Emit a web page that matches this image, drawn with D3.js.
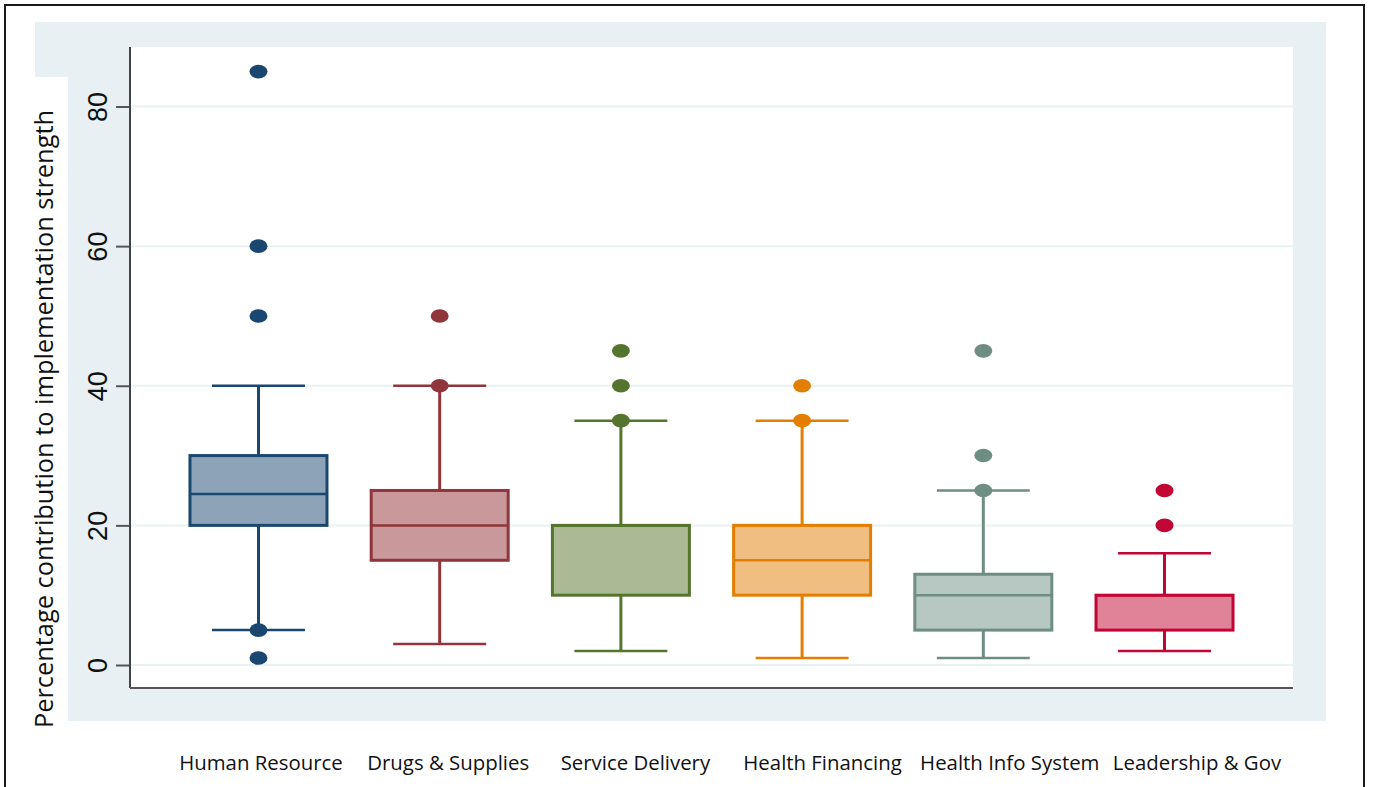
<!DOCTYPE html>
<html>
<head>
<meta charset="utf-8">
<script src="https://cdn.jsdelivr.net/npm/d3@7"></script>
<style>
  html, body { margin: 0; padding: 0; background: #fff; }
  svg { display: block; }
</style>
</head>
<body>
<svg id="chart" width="1373" height="787"></svg>
<script>
// ---- data ----
const categories = ["Human Resource", "Drugs & Supplies", "Service Delivery", "Health Financing", "Health Info System", "Leadership & Gov"];
const q1 = [20, 15, 10, 10, 5, 5];
const medians = [24.5, 20, 20, 15, 10, 10];
const q3 = [30, 25, 20, 20, 13, 10];
const whiskerLow = [5, 3, 2, 1, 1, 2];
const whiskerHigh = [40, 40, 35, 35, 25, 16];
const outliers = [[85, 60, 50, 5, 1], [50, 40], [45, 40, 35], [40, 35], [45, 30, 25], [25, 20]];
const yTicks = [0, 20, 40, 60, 80];
const yLabel = "Percentage contribution to implementation strength";

const strokeColors = ["#1a476f", "#90353b", "#55752f", "#e37e00", "#6e8e84", "#c10534"];
const fillColors = ["#8da3b8", "#c8989b", "#abba95", "#f0be80", "#b7c7c1", "#e08298"];

// ---- layout ----
const svg = d3.select("#chart");
const plot = { left: 130, right: 1293, top: 47, bottom: 688 };

// outer frame
svg.append("rect").attr("x", 5).attr("y", 5).attr("width", 1359).attr("height", 800)
  .attr("fill", "#fff").attr("stroke", "#1a1a1a").attr("stroke-width", 2);

// panel background with notch
svg.append("path")
  .attr("d", "M35,22 H1326 V721 H68 V77 H35 Z")
  .attr("fill", "#e9f0f3");

// plot region
svg.append("rect").attr("x", plot.left).attr("y", plot.top)
  .attr("width", plot.right - plot.left).attr("height", plot.bottom - plot.top)
  .attr("fill", "#fff");

const x = d3.scalePoint().domain(categories).range([plot.left, plot.right]).padding(0.709);
const y = d3.scaleLinear().domain([0, 80]).range([665, 106.5]);

// gridlines
svg.append("g").selectAll("line").data(yTicks).join("line")
  .attr("x1", plot.left).attr("x2", plot.right)
  .attr("y1", d => y(d)).attr("y2", d => y(d))
  .attr("stroke", "#eaf1f3").attr("stroke-width", 2);

// y axis
const yAxis = d3.axisLeft(y).tickValues(yTicks).tickSize(14).tickPadding(0).tickFormat(d3.format("d"));
const gy = svg.append("g").attr("transform", `translate(${plot.left},0)`).call(yAxis);
gy.select(".domain").remove();
gy.selectAll(".tick line").attr("stroke", "#555").attr("stroke-width", 2);
gy.selectAll(".tick text")
  .attr("x", 0).attr("y", 0)
  .attr("transform", "translate(-23,0) rotate(-90)")
  .attr("text-anchor", "middle")
  .attr("dy", 0)
  .style("font-family", "'Liberation Sans', Arial, sans-serif")
  .style("font-size", "27px")
  .attr("fill", "#111");

// axis lines
svg.append("line").attr("x1", plot.left).attr("x2", plot.left).attr("y1", plot.top).attr("y2", plot.bottom)
  .attr("stroke", "#444").attr("stroke-width", 2);
svg.append("line").attr("x1", plot.left).attr("x2", plot.right).attr("y1", plot.bottom).attr("y2", plot.bottom)
  .attr("stroke", "#555").attr("stroke-width", 2);

// boxes
const boxW = x.step() * 0.756;
const capW = x.step() * 0.513;
const groups = svg.append("g").selectAll("g").data(categories).join("g");

groups.each(function (c, i) {
  const g = d3.select(this);
  const cx = x(c);
  const col = strokeColors[i];
  // whiskers
  g.append("line").attr("x1", cx).attr("x2", cx).attr("y1", y(q3[i])).attr("y2", y(whiskerHigh[i]))
    .attr("stroke", col).attr("stroke-width", 3);
  g.append("line").attr("x1", cx).attr("x2", cx).attr("y1", y(q1[i])).attr("y2", y(whiskerLow[i]))
    .attr("stroke", col).attr("stroke-width", 3);
  // caps
  [whiskerHigh[i], whiskerLow[i]].forEach(v => {
    g.append("line").attr("x1", cx - capW / 2).attr("x2", cx + capW / 2).attr("y1", y(v)).attr("y2", y(v))
      .attr("stroke", col).attr("stroke-width", 2.5);
  });
  // box
  g.append("rect").attr("x", cx - boxW / 2).attr("y", y(q3[i]))
    .attr("width", boxW).attr("height", y(q1[i]) - y(q3[i]))
    .attr("fill", fillColors[i]).attr("stroke", col).attr("stroke-width", 3);
  // median
  g.append("line").attr("x1", cx - boxW / 2).attr("x2", cx + boxW / 2)
    .attr("y1", y(medians[i])).attr("y2", y(medians[i]))
    .attr("stroke", col).attr("stroke-width", 2.5);
  // outliers
  g.selectAll("ellipse").data(outliers[i]).join("ellipse")
    .attr("cx", cx).attr("cy", d => y(d)).attr("rx", 9).attr("ry", 6.8)
    .attr("fill", col);
});

// y label
svg.append("text")
  .attr("transform", "translate(53,419) rotate(-90)")
  .attr("text-anchor", "middle")
  .attr("textLength", 618).attr("lengthAdjust", "spacingAndGlyphs")
  .style("font-family", "'Open Sans', sans-serif")
  .style("font-size", "25px")
  .attr("fill", "#111")
  .text(yLabel);

// x labels (placed below the panel)
const xl = d3.scalePoint().domain(categories).range([261, 1197]);
svg.append("g").selectAll("text").data(categories).join("text")
  .attr("x", d => xl(d)).attr("y", 770)
  .attr("text-anchor", "middle")
  .style("font-family", "'Open Sans', sans-serif")
  .style("font-size", "20.4px")
  .attr("fill", "#111")
  .text(d => d);
</script>
</body>
</html>
